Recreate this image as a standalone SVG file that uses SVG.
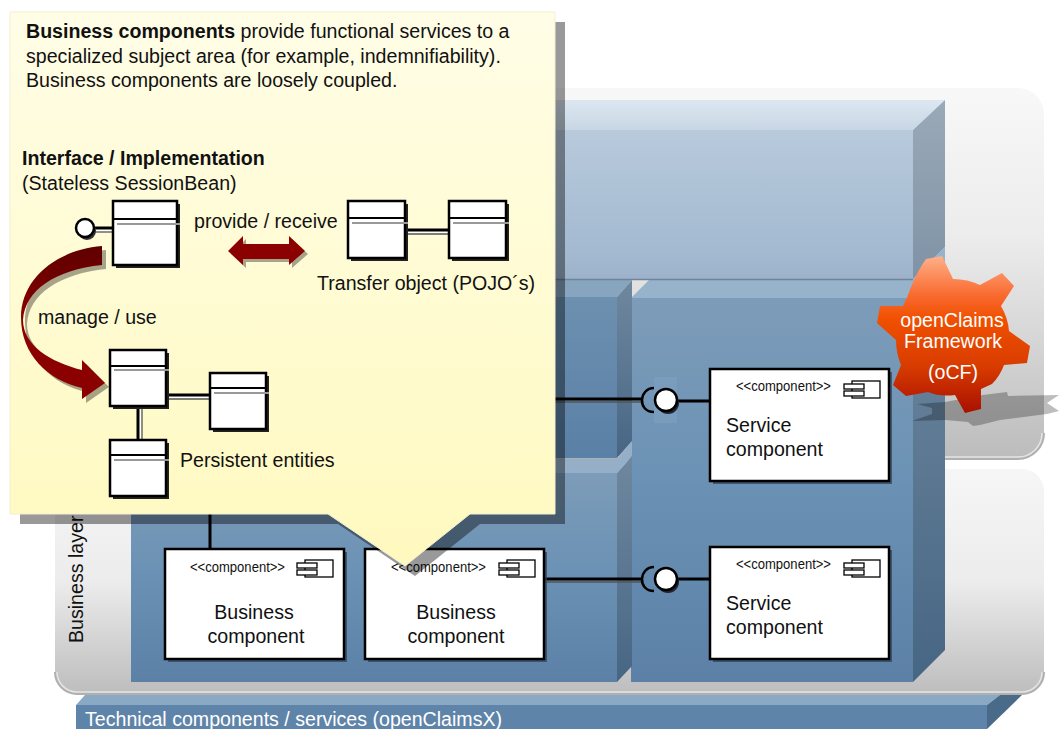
<svg xmlns="http://www.w3.org/2000/svg" width="1059" height="729" viewBox="0 0 1059 729">
<style>
text{font-family:"Liberation Sans",Arial,sans-serif;font-size:19.6px;fill:#111}
.b{font-weight:bold}
.w{fill:#fff}
.st{font-size:14px}
.card{fill:#fff;stroke:#000;stroke-width:2.5}
.cs{fill:#2f4358;opacity:.75}
.cls{fill:#fff;stroke:#000;stroke-width:2.5}
.csh{fill:#222}
.div{stroke:#000;stroke-width:2;fill:none}
.gl{stroke:#999;stroke-width:2;fill:none}
.ln{stroke:#000;stroke-width:3;fill:none}
.lw{stroke:#fff;stroke-width:2;fill:none}
.lg{stroke:#555;stroke-width:1.3;fill:none}
.ic{fill:#fff;stroke:#000;stroke-width:1.3}
.red{fill:#8b0000}
.rs{fill:#000;opacity:.35}
</style>
<defs>
<linearGradient id="pan" x1="0" y1="0" x2="0" y2="1"><stop offset="0" stop-color="#f8f8f8"/><stop offset=".4" stop-color="#ececec"/><stop offset="1" stop-color="#bcbcbc"/></linearGradient>
<linearGradient id="pan2" x1="0" y1="0" x2="0" y2="1"><stop offset="0" stop-color="#f6f6f6"/><stop offset=".5" stop-color="#ececec"/><stop offset="1" stop-color="#bdbdbd"/></linearGradient>
<linearGradient id="upF" x1="0" y1="0" x2="0" y2="1"><stop offset="0" stop-color="#b8cadc"/><stop offset=".85" stop-color="#a2b9d0"/><stop offset="1" stop-color="#9db2ca"/></linearGradient>
<linearGradient id="upT" x1="0" y1="0" x2="0" y2="1"><stop offset="0" stop-color="#dce7f2"/><stop offset="1" stop-color="#c8d7e4"/></linearGradient>
<linearGradient id="upS" x1="0" y1="0" x2="0" y2="1"><stop offset="0" stop-color="#9aa9b8"/><stop offset="1" stop-color="#7f93a6"/></linearGradient>
<linearGradient id="bF" x1="0" y1="0" x2="0" y2="1"><stop offset="0" stop-color="#7d9cb9"/><stop offset=".5" stop-color="#6a91b4"/><stop offset="1" stop-color="#5c80a6"/></linearGradient>
<linearGradient id="bF2" x1="0" y1="0" x2="0" y2="1"><stop offset="0" stop-color="#6d90b0"/><stop offset="1" stop-color="#5a80a6"/></linearGradient>
<linearGradient id="bS" x1="0" y1="0" x2="0" y2="1"><stop offset="0" stop-color="#6f889f"/><stop offset="1" stop-color="#476684"/></linearGradient>
<linearGradient id="call" x1="0" y1="0" x2="0" y2="1"><stop offset="0" stop-color="#fffde6"/><stop offset="1" stop-color="#fff9bf"/></linearGradient>
<linearGradient id="gear" x1="0" y1="0" x2="0" y2="1"><stop offset="0" stop-color="#ffb088"/><stop offset=".25" stop-color="#f96a30"/><stop offset=".4" stop-color="#f05000"/><stop offset=".7" stop-color="#d93c00"/><stop offset="1" stop-color="#a81000"/></linearGradient>
<linearGradient id="arc" x1="0" y1="0" x2="0" y2="1"><stop offset="0" stop-color="#5e0000"/><stop offset=".5" stop-color="#8b0000"/><stop offset="1" stop-color="#8b0000"/></linearGradient>
<g id="cico">
<rect class="ic" x="8" y="0" width="28" height="17"/>
<rect class="ic" x="0" y="3" width="20" height="5"/>
<rect class="ic" x="0" y="10" width="20" height="5"/>
</g>
</defs>

<g id="block-tech">
<path d="M76,705L85,695H1000L987,705Z" fill="#8aa9c4"/>
<path d="M987,705L1000,695H1022L987,729Z" fill="#4a6a89"/>
<rect x="76" y="705" width="911" height="24" fill="#5f84a9"/>
<text class="w" x="85" y="726">Technical components / services (openClaimsX)</text>
</g>

<g id="panels">
<rect x="55" y="88" width="989" height="371" rx="26" fill="url(#pan)"/>
<path d="M1044,433a26,26 0 0 1 -26,26H81a26,26 0 0 1 -26,-26" fill="none" stroke="#b0b0b0" stroke-width="2"/>
<path d="M1042,433a24,24 0 0 1 -24,24H81a24,24 0 0 1 -24,-24" fill="none" stroke="#e4e4e4" stroke-width="1.500"/>
<rect x="55" y="469" width="989" height="225" rx="22" fill="url(#pan2)"/>
<path d="M1044,672a22,22 0 0 1 -22,22H77a22,22 0 0 1 -22,-22" fill="none" stroke="#b0b0b0" stroke-width="2"/>
<path d="M1042,672a20,20 0 0 1 -20,20H77a20,20 0 0 1 -20,-20" fill="none" stroke="#e4e4e4" stroke-width="1.500"/>
</g>

<g id="block-service">
<path d="M631,298L650,279H913L945,247V265L913,298Z" fill="#97b3cb"/>
<path d="M913,298L945,265V650L913,682Z" fill="url(#bS)"/>
<rect x="631" y="298" width="282" height="384" fill="url(#bF)"/>
</g>
<g id="block-business-top">
<path d="M131,297L150,279H617L632,280L617,297Z" fill="#88a5bf"/>
<path d="M617,297L632,280V441L617,458Z" fill="url(#bS)"/>
<rect x="131" y="297" width="486" height="161" fill="url(#bF2)"/>
</g>
<g id="block-business">
<path d="M131,473L146,459H617L632,441V456L617,473Z" fill="#94afc7"/>
<path d="M617,473L632,456V666L617,682Z" fill="url(#bS)"/>
<rect x="131" y="473" width="486" height="209" fill="url(#bF)"/>
</g>
<g id="block-upper">
<path d="M131,130L160,100H945L913,130Z" fill="url(#upT)"/>
<path d="M913,130L945,100V247L913,279Z" fill="url(#upS)"/>
<rect x="131" y="130" width="782" height="149" fill="url(#upF)"/>
<path d="M131,279.500H913" stroke="#6e8499" stroke-width="1.500"/>
</g>

<g id="gear-shadow">
<path d="M917,404L945,402L983,395L1007,392L1008,396L1059,395L1047,403L1059,411L1047,414L1000,420L980,425L973,426L968,422L945,420L912,421L932,414L932,408Z" fill="#000" opacity=".26"/>
</g>

<g id="business-layer-label"><text transform="translate(83,643) rotate(-90)">Business layer</text></g>

<g id="connectors">
<rect x="654" y="377" width="23" height="46" fill="#7fa0bf" opacity=".6"/>
<path class="lg" d="M500,402H642"/>
<path class="ln" d="M500,399H642"/>
<path class="ln" d="M677,401H712"/>
<path class="lg" d="M545,582H642"/>
<path class="ln" d="M545,579H642"/>
<path class="ln" d="M677,579H712"/>
<path class="ln" d="M210,500V549"/>
<path d="M654,388C639,388 637,412 654,412" fill="none" stroke="#000" stroke-width="2.500"/>
<path d="M654,567C639,567 637,591 654,591" fill="none" stroke="#000" stroke-width="2.500"/>
<circle cx="668" cy="403" r="11" fill="#223"/>
<circle cx="666" cy="400" r="11" fill="#fff" stroke="#000" stroke-width="2.500"/>
<circle cx="668" cy="582" r="11" fill="#223"/>
<circle cx="666" cy="579" r="11" fill="#fff" stroke="#000" stroke-width="2.500"/>
</g>

<g id="card-business-1">
<rect class="cs" x="168" y="552" width="179" height="110"/>
<rect class="card" x="165" y="549" width="179" height="110"/>
<text class="st" x="190" y="572" textLength="95" lengthAdjust="spacingAndGlyphs">&lt;&lt;component&gt;&gt;</text>
<use href="#cico" x="297" y="560"/>
<text x="254" y="619" text-anchor="middle">Business</text>
<text x="256" y="643" text-anchor="middle">component</text>
</g>
<g id="card-business-2">
<rect class="cs" x="368" y="552" width="179" height="110"/>
<rect class="card" x="365" y="549" width="179" height="110"/>
<text class="st" x="391" y="572" textLength="95" lengthAdjust="spacingAndGlyphs">&lt;&lt;component&gt;&gt;</text>
<use href="#cico" x="499" y="560"/>
<text x="456" y="619" text-anchor="middle">Business</text>
<text x="456" y="643" text-anchor="middle">component</text>
</g>
<g id="card-service-1">
<rect class="cs" x="713" y="372" width="179" height="112"/>
<rect class="card" x="710" y="369" width="179" height="112"/>
<text class="st" x="736" y="391" textLength="95" lengthAdjust="spacingAndGlyphs">&lt;&lt;component&gt;&gt;</text>
<use href="#cico" x="844" y="381"/>
<text x="726" y="432">Service</text>
<text x="726" y="456">component</text>
</g>
<g id="card-service-2">
<rect class="cs" x="713" y="550" width="179" height="112"/>
<rect class="card" x="710" y="547" width="179" height="112"/>
<text class="st" x="736" y="569" textLength="95" lengthAdjust="spacingAndGlyphs">&lt;&lt;component&gt;&gt;</text>
<use href="#cico" x="844" y="560"/>
<text x="726" y="610">Service</text>
<text x="726" y="634">component</text>
</g>

<g id="gear-node">
<path d="M926,259L942,256L953,279Q968,279 980,285L1002,273L1014,286L1001,306Q1008,318 1009,331L1030,346L1027,363L1004,365Q1000,376 992,384L981,389L981,409L965,413L955,395Q940,397 928,392L906,396L893,385L901,365Q896,353 896,340L877,323L880,306L903,306Q908,296 911,287Q918,270 926,259Z" fill="url(#gear)"/>
<text class="w" x="952" y="327" text-anchor="middle">openClaims</text>
<text class="w" x="953" y="348" text-anchor="middle">Framework</text>
<text class="w" x="953" y="379" text-anchor="middle">(oCF)</text>
</g>

<g id="callout">
<path d="M20,22H565V524H480L415,576L338,524H20Z" fill="#000" opacity=".4"/>
<path d="M10,12H555V514H470L405,566L328,514H10Z" fill="url(#call)" stroke="#f2efd0" stroke-width="1"/>
<text x="26" y="38"><tspan class="b">Business components</tspan> provide functional services to a</text>
<text x="26" y="63">specialized subject area (for example, indemnifiability).</text>
<text x="26" y="87">Business components are loosely coupled.</text>
<text class="b" x="22" y="165">Interface / Implementation</text>
<text x="22" y="190">(Stateless SessionBean)</text>
<text x="194" y="228">provide / receive</text>
<text x="317" y="290">Transfer object (POJO´s)</text>
<text x="38" y="324">manage / use</text>
<text x="180" y="467">Persistent entities</text>

<path class="rs" d="M106,250C59,254 25,284 25,321C25,359 52,384 86,392L86,403L109,387L86,364L86,374C54,366 27,349 27,324C29,294 59,274 106,269Z"/>
<path d="M102,246C55,250 21,280 21,317C21,355 48,380 82,388L82,399L105,383L82,360L82,370C50,362 23,345 23,320C25,290 55,270 102,265Z" fill="url(#arc)"/>
<path class="rs" d="M231,254L246,239V248H292V239L308,254L292,268V262H246V268Z"/>
<path class="red" d="M228,251L243,236V244H289V236L305,251L289,265V259H243V265Z"/>

<path class="lw" d="M95,230H113"/><path class="ln" d="M95,228H113"/><path class="lg" d="M95,232H116"/>
<circle cx="87" cy="231" r="9" fill="#333"/>
<circle cx="85" cy="228" r="9" fill="#fff" stroke="#000" stroke-width="2.500"/>
<path class="lw" d="M405,232H449"/><path class="ln" d="M405,230H449"/><path class="lg" d="M405,234H449"/>
<path class="lw" d="M166,397H210"/><path class="ln" d="M166,395H210"/><path class="lg" d="M166,399H212"/>
<path class="lw" d="M140,406V440"/><path class="ln" d="M138,406V440"/><path class="lg" d="M142,406V442"/>
</g>

<g id="class-a"><rect class="csh" x="116" y="204" width="64" height="64"/><rect class="cls" x="113" y="201" width="64" height="64"/><path class="div" d="M113,219H177"/><path class="gl" d="M117,224H180"/></g>
<g id="class-t1"><rect class="csh" x="351" y="204" width="57" height="57"/><rect class="cls" x="348" y="201" width="57" height="57"/><path class="div" d="M348,218H405"/><path class="gl" d="M352,223H408"/></g>
<g id="class-t2"><rect class="csh" x="452" y="204" width="57" height="57"/><rect class="cls" x="449" y="201" width="57" height="57"/><path class="div" d="M449,218H506"/><path class="gl" d="M453,223H509"/></g>
<g id="class-b"><rect class="csh" x="113" y="353" width="56" height="56"/><rect class="cls" x="110" y="350" width="56" height="56"/><path class="div" d="M110,366H166"/><path class="gl" d="M114,370H169"/></g>
<g id="class-c"><rect class="csh" x="213" y="376" width="56" height="56"/><rect class="cls" x="210" y="373" width="56" height="56"/><path class="div" d="M210,388H266"/><path class="gl" d="M214,393H269"/></g>
<g id="class-d"><rect class="csh" x="113" y="443" width="56" height="56"/><rect class="cls" x="110" y="440" width="56" height="56"/><path class="div" d="M110,455H166"/><path class="gl" d="M114,460H169"/></g>
</svg>
